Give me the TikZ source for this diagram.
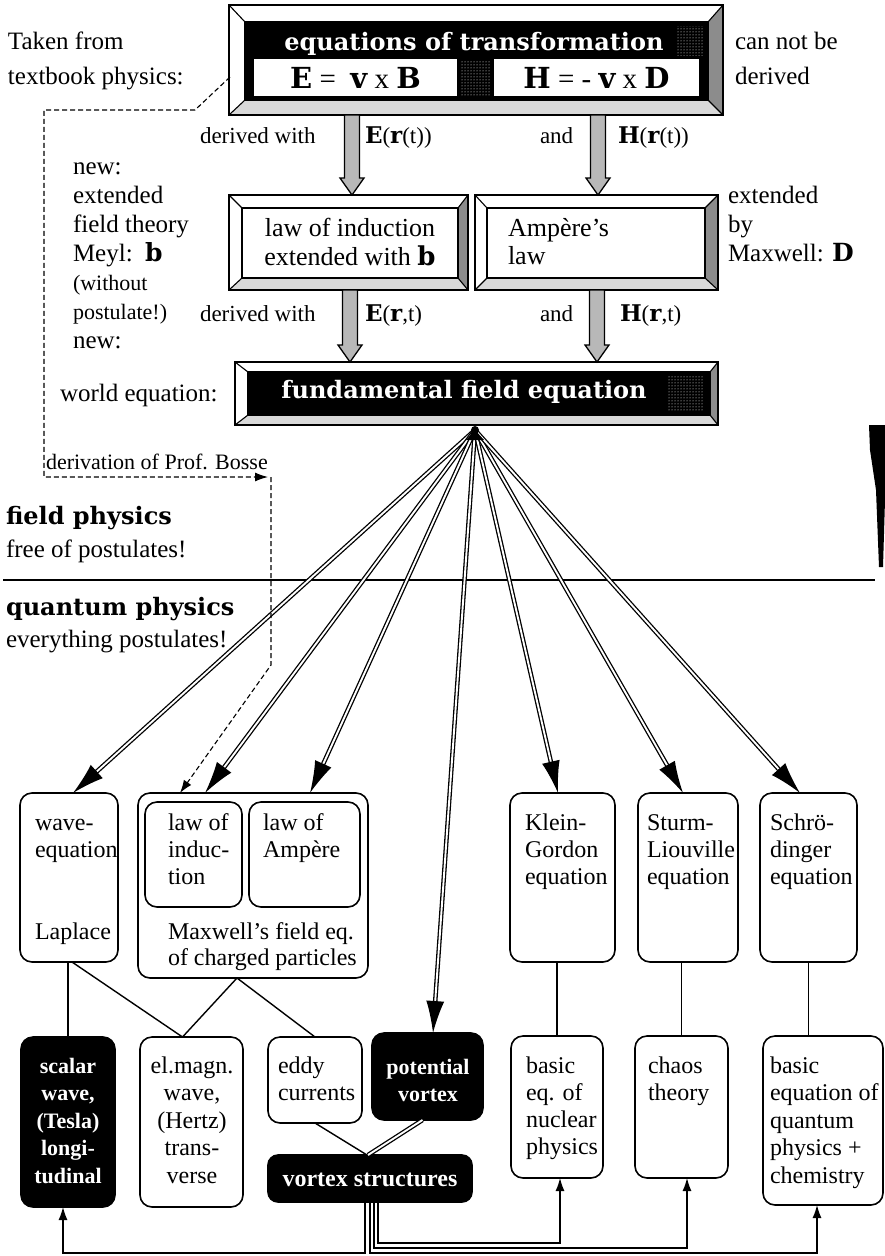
\documentclass[tikz,border=0pt]{standalone}
\usepackage{fontspec}
\setmainfont{Liberation Serif}
\newfontfamily\hfont{DejaVu Serif}
\usetikzlibrary{calc,arrows.meta,patterns}
\newcommand\fs[2]{\fontsize{#1}{#2}\selectfont}
\newcommand\hb[1]{{\hfont\bfseries #1}}
% bevelled frame around node #1: left, top, right, bottom widths, inner fill
\newcommand\bevelframe[6]{%
  \coordinate (#1-a) at ($(#1.north west)+(#2,#3)$);
  \coordinate (#1-b) at ($(#1.north east)+(-#4,#3)$);
  \coordinate (#1-c) at ($(#1.south east)+(-#4,-#5)$);
  \coordinate (#1-d) at ($(#1.south west)+(#2,-#5)$);
  \fill[white] (#1.north west) -- (#1.north east) -- (#1-b) -- (#1-a) -- (#1-d) -- (#1.south west) -- cycle;
  \fill[sidegray] (#1.north east) -- (#1.south east) -- (#1-c) -- (#1-b) -- cycle;
  \fill[botgray] (#1.south west) -- (#1.south east) -- (#1-c) -- (#1-d) -- cycle;
  \draw[line width=1.6pt, fill=#6] (#1-a) rectangle (#1-c);
  \draw[line width=1.6pt] (#1.north west) rectangle (#1.south east);
  \draw[line width=1.1pt] (#1.north west) -- (#1-a) (#1.north east) -- (#1-b)
     (#1.south east) -- (#1-c) (#1.south west) -- (#1-d);
}
% hollow block arrow from #1 (top) to #2 (tip)
\newcommand\blockarrow[2]{%
  \draw[line width=1.3pt, fill=arrowgray]
    ($(#1)+(-7.5,0)$) -- ($(#2)+(-7.5,-17)$) -- ($(#2)+(-12,-17)$) -- (#2)
    -- ($(#2)+(12,-17)$) -- ($(#2)+(7.5,-17)$) -- ($(#1)+(7.5,0)$) -- cycle;
}
% double line with a solid black tip
\newcommand\fan[1]{%
  \draw[dbl, shorten >=28pt] (apex) -- (#1);
  \draw[fantip] ($(#1)!32pt!(apex)$) -- (#1);
}
\definecolor{sidegray}{gray}{0.55}
\definecolor{botgray}{gray}{0.85}
\definecolor{arrowgray}{gray}{0.72}
\begin{document}
\begin{tikzpicture}[x=1pt,y=-1pt,
  every node/.style={inner sep=0pt, outer sep=0pt},
  frm/.style={anchor=north west},
  note/.style={anchor=base west, font=\fs{25}{29.5}},
  snote/.style={anchor=base west, font=\fs{22}{26}},
  lbl/.style={anchor=base west, font=\fs{23}{27}},
  head/.style={anchor=base west, font=\hfont\bfseries\fs{24}{28}},
  rbox/.style={draw, line width=1.6pt, rounded corners=12pt, anchor=north west},
  bbox/.style={rbox, fill=black},
  btxt/.style={anchor=north west, align=left, font=\fs{24}{27}},
  wtxt/.style={anchor=north, align=center, text=white, font=\bfseries\fs{22}{27.5}},
  conn/.style={line width=1.4pt},
  dbl/.style={double, line width=1.3pt, double distance=1.9pt},
  fantip/.style={-{Latex[length=32pt,width=18pt]}, line width=1.3pt},
  btip/.style={-{Latex[length=13pt,width=9pt]}, line width=1.3pt},
  dsh/.style={line width=1.1pt, dash pattern=on 5pt off 3pt},
  stip/.style={pattern=dots, pattern color=white}
]
\useasboundingbox (0,0) rectangle (885,1256);
\fill[white] (0,0) rectangle (885,1256);

%================ top frame
\node[frm, minimum width=494pt, minimum height=110pt] (topbox) at (229,5) {};
\bevelframe{topbox}{16}{17}{15}{15}{black}
\fill[stip] (460,60) rectangle (491,96);
\fill[stip] (676,26) rectangle (704,55);
\node[text=white, font=\hfont\bfseries\fs{24}{28}, anchor=base] (title) at (474,50) {equations of transformation};
\node[frm, draw, line width=1.8pt, fill=white, minimum width=205pt, minimum height=39pt, font=\fs{29}{30}] (ebox) at (253,58) {\hb{E} = \ \hb{v} x \hb{B}};
\node[frm, draw, line width=1.8pt, fill=white, minimum width=207pt, minimum height=39pt, font=\fs{29}{30}] (hbox) at (493,58) {\hb{H} = - \hb{v} x \hb{D}};

\node[note] (tf1) at (8,49) {Taken from};
\node[note] (tf2) at (8,84) {textbook physics:};
\node[note] (cn1) at (735,49) {can not be};
\node[note] (cn2) at (735,84) {derived};

%================ middle frames
\node[frm, minimum width=239pt, minimum height=95pt] (midL) at (229,195) {};
\bevelframe{midL}{13}{13}{10}{12}{white}
\node[frm, minimum width=243pt, minimum height=95pt] (midR) at (475,195) {};
\bevelframe{midR}{12}{13}{13}{12}{white}
\node[anchor=north, align=center, font=\fs{26}{28}] (indtxt) at (350,216.4) {\strut law of induction\\extended with \hb{b}};
\node[anchor=north west, align=left, font=\fs{26}{28}] (amptxt) at (508,216.4) {\strut Ampère's\\law};

%================ block arrows
\coordinate (ax1) at (352,0);
\coordinate (ax2) at (598,0);
\coordinate (bx1) at (350,0);
\coordinate (bx2) at (597,0);
\coordinate (s1) at (topbox.south -| ax1);
\coordinate (e1) at (midL.north -| ax1);
\coordinate (s2) at (topbox.south -| ax2);
\coordinate (e2) at (midR.north -| ax2);
\blockarrow{s1}{e1}
\blockarrow{s2}{e2}

\node[lbl] (dw1) at (200,143) {derived with};
\node[lbl] (ev1) at (365,143) {\hb{E}(\hb{r}(t))};
\node[lbl] (an1) at (540,143) {and};
\node[lbl] (hv1) at (618,143) {\hb{H}(\hb{r}(t))};

\node[note] (l1) at (73,174) {new:};
\node[note] (l2) at (73,203) {extended};
\node[note] (l3) at (73,232) {field theory};
\node[note] (l4) at (73,261) {Meyl:\ \ \hb{b}};
\node[snote] (l5) at (73,290) {(without};
\node[snote] (l6) at (73,319) {postulate!)};
\node[note] (l7) at (73,348) {new:};
\node[note] (r1) at (728,203) {extended};
\node[note] (r2) at (728,232) {by};
\node[note] (r3) at (728,261) {Maxwell: \hb{D}};

%================ fundamental frame
\node[frm, minimum width=483pt, minimum height=63pt] (fund) at (235,362) {};
\bevelframe{fund}{13}{10}{8}{10}{black}
\fill[stip] (668,376) rectangle (704,410);
\node[text=white, font=\hfont\bfseries\fs{24}{28}, anchor=base] (ftitle) at (464,398) {fundamental field equation};
\coordinate (t1) at (midL.south -| bx1);
\coordinate (u1) at (fund.north -| bx1);
\coordinate (t2) at (midR.south -| bx2);
\coordinate (u2) at (fund.north -| bx2);
\blockarrow{t1}{u1}
\blockarrow{t2}{u2}
\node[lbl] (dw2) at (200,321) {derived with};
\node[lbl] (ev2) at (365,321) {\hb{E}(\hb{r},t)};
\node[lbl] (an2) at (540,321) {and};
\node[lbl] (hv2) at (620,321) {\hb{H}(\hb{r},t)};
\node[note] (we) at (60,401) {world equation:};

%================ physics labels
\node[snote] (bosse) at (46,469) {derivation of Prof. Bosse};
\node[head] (fp) at (6,524) {field physics};
\node[note] (fp2) at (6,557) {free of postulates!};
\draw[line width=1.4pt] (3,580) -- (875,580);
\node[head] (qp) at (6,615) {quantum physics};
\node[note] (qp2) at (6,647) {everything postulates!};
\fill (869,425) -- (885,425) -- (885,500) -- (883,567) -- (879,567) -- (876,490) -- (870,450) -- cycle;

%================ upper row of rounded boxes
\node[rbox, minimum width=98pt, minimum height=169pt] (wave) at (20,793) {};
\node[rbox, minimum width=230pt, minimum height=185pt] (maxw) at (138,793) {};
\node[rbox, minimum width=97pt, minimum height=105pt] (lind) at (145,802) {};
\node[rbox, minimum width=111pt, minimum height=105pt] (lamp) at (249,802) {};
\node[rbox, minimum width=105pt, minimum height=169pt] (klein) at (510,793) {};
\node[rbox, minimum width=100pt, minimum height=169pt] (sturm) at (638,793) {};
\node[rbox, minimum width=97pt, minimum height=169pt] (schr) at (760,793) {};

\node[btxt] (wavet) at (35,811.1) {\strut wave-\\equation};
\node[btxt] (lapl) at (35,920.1) {\strut Laplace};
\node[btxt] (lindt) at (168,811.1) {\strut law of\\induc-\\tion};
\node[btxt] (lampt) at (263,811.1) {\strut law of\\Ampère};
\node[btxt, font=\fs{24}{26}] (maxt) at (168,920.8) {\strut Maxwell's field eq.\\of charged particles};
\node[btxt] (kleint) at (525,811.1) {\strut Klein-\\Gordon\\equation};
\node[btxt] (sturmt) at (647,811.1) {\strut Sturm-\\Liouville\\equation};
\node[btxt] (schrt) at (770,811.1) {\strut Schrö-\\dinger\\equation};

%================ lower row
\node[bbox, minimum width=94pt, minimum height=170pt] (scalar) at (21,1037) {};
\node[rbox, minimum width=103pt, minimum height=170pt] (elm) at (140,1037) {};
\node[rbox, minimum width=94pt, minimum height=86pt] (eddy) at (268,1037) {};
\node[bbox, minimum width=111pt, minimum height=87pt] (pot) at (372,1033) {};
\node[bbox, minimum width=204pt, minimum height=47pt, rounded corners=10pt] (vs) at (268,1155) {};
\node[rbox, minimum width=92pt, minimum height=142pt] (nuc) at (511,1036) {};
\node[rbox, minimum width=93pt, minimum height=142pt] (chaos) at (635,1036) {};
\node[rbox, minimum width=120pt, minimum height=169pt] (quant) at (763,1036) {};

\node[wtxt] (scalart) at (68,1053.8) {\strut scalar\\wave,\\(Tesla)\\longi-\\tudinal};
\node[btxt, anchor=north, align=center, font=\fs{24}{27.5}] (elmt) at (192,1053.8) {\strut el.magn.\\wave,\\(Hertz)\\trans-\\verse};
\node[btxt, font=\fs{24}{27.5}] (eddyt) at (278,1053.8) {\strut eddy\\currents};
\node[wtxt] (pott) at (428,1054.8) {\strut potential\\vortex};
\node[text=white, font=\bfseries\fs{24}{28}, anchor=base] (vst) at (370,1186) {vortex structures};
\node[btxt, font=\fs{24}{27}] (nuct) at (526,1054.1) {\strut basic\\eq. of\\nuclear\\physics};
\node[btxt, font=\fs{24}{27}] (chaost) at (648,1054.1) {\strut chaos\\theory};
\node[btxt, font=\fs{24}{27.5}] (quantt) at (770,1053.8) {\strut basic\\equation of\\quantum\\physics +\\chemistry};

%================ connectors between rows
\draw[conn] (scalar.north) -- (scalar.north |- wave.south);
\coordinate (wv) at ($(wave.south)+(3,0)$);
\coordinate (em) at ($(elm.north)+(-9,0)$);
\coordinate (mx) at ($(maxw.south)+(-16,0)$);
\draw[conn] (wv) -- (em);
\draw[conn] (mx) -- (em);
\draw[conn] (mx) -- (eddy.north);
\draw[conn] (eddy.south) -- ($(vs.north)+(-3,0)$);
\draw[dbl] ($(pot.south)+(-5,0)$) -- ($(vs.north)+(-2,0)$);
\draw[conn] (nuc.north) -- (nuc.north |- klein.south);
\draw[conn] (chaos.north) -- (chaos.north |- sturm.south);
\draw[conn] (schr.south) -- (schr.south |- quant.north);

%================ bottom arrows from vortex structures
\draw[btip] ($(vs.south)+(-5,0)$) |- ($(scalar.south)+(-5,46)$) -- ($(scalar.south)+(-5,0)$);
\draw[btip] ($(vs.south)+(0,0)$) |- ($(quant.south)+(-6,48)$) -- ($(quant.south)+(-6,0)$);
\draw[btip] ($(vs.south)+(4,0)$) |- ($(chaos.south)+(5.5,70)$) -- ($(chaos.south)+(5.5,0)$);
\draw[btip] ($(vs.south)+(8,0)$) |- ($(nuc.south)+(3,65)$) -- ($(nuc.south)+(3,0)$);

%================ fan from the fundamental field equation
\coordinate (apex) at (475,430);
\coordinate (p1) at (73,793);
\coordinate (p3) at (205,793);
\coordinate (p4) at (310,793);
\coordinate (p5) at (433,1033);
\coordinate (p6) at (558,793);
\coordinate (p7) at (683,793);
\coordinate (p8) at (800,793);
\fan{p1}
\fan{p3}
\fan{p4}
\fan{p5}
\fan{p6}
\fan{p7}
\fan{p8}
\fill (apex) -- (466,440) -- (484,440) -- cycle;
\fill (apex) circle (4pt);

%================ dashed derivation path
\coordinate (d0) at (230,77);
\coordinate (d1) at (195,110);
\coordinate (d2) at (44,110);
\coordinate (d3) at (44,477);
\coordinate (d4) at (268,477);
\coordinate (d5) at (271,477);
\coordinate (d6) at (271,665);
\coordinate (d7) at (180,793);
\draw[dsh, -{Latex[length=13pt,width=9pt]}] (d0) -- (d1) -- (d2) -- (d3) -- (d4);
\draw[dsh, -{Latex[length=13pt,width=9pt]}] (d5) -- (d6) -- (d7);
\end{tikzpicture}
\end{document}
